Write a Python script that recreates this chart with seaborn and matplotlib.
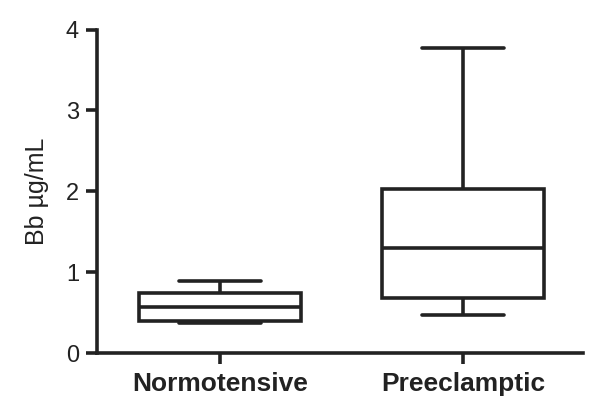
import matplotlib
matplotlib.use("Agg")
import matplotlib.pyplot as plt
import seaborn as sns
import pandas as pd

# Five-number summaries (min, Q1, median, Q3, max)
categories = ["Normotensive", "Preeclamptic"]
normotensive = [0.37, 0.40, 0.57, 0.74, 0.89]
preeclamptic = [0.47, 0.68, 1.30, 2.03, 3.77]
y_ticks = [0, 1, 2, 3, 4]
y_label = "Bb µg/mL"

df = pd.DataFrame({
    "group": [categories[0]] * len(normotensive) + [categories[1]] * len(preeclamptic),
    "value": normotensive + preeclamptic,
})

sns.set_theme(style="ticks")
plt.rcParams["font.family"] = ["Liberation Sans", "DejaVu Sans"]

fig = plt.figure(figsize=(6.0, 4.16), dpi=100)
ax = fig.add_axes([0.1617, 0.1514, 0.81, 0.7776])

lc = "#222222"
lw = 2.6
sns.boxplot(data=df, x="group", y="value", order=categories, whis=(0, 100),
            width=0.67, color="white", linecolor=lc, linewidth=lw,
            fliersize=0, ax=ax)

ax.set_ylim(0, 4)
ax.set_xlim(-0.506, 1.494)
ax.set_yticks(y_ticks)
ax.set_yticklabels([str(t) for t in y_ticks], fontsize=17, color=lc)
ax.set_xticks(range(len(categories)))
ax.set_xticklabels(categories, fontsize=19, fontweight="bold", color=lc)
ax.set_xlabel("")
ax.set_ylabel(y_label, fontsize=18, color=lc, labelpad=12)
for s in ["top", "right"]:
    ax.spines[s].set_visible(False)
for s in ["left", "bottom"]:
    ax.spines[s].set_linewidth(lw)
    ax.spines[s].set_color(lc)
ax.tick_params(axis="both", width=lw, length=8, color=lc)
ax.tick_params(axis="y", pad=5)
ax.tick_params(axis="x", pad=6)

fig.savefig("out.png", dpi=100, facecolor="white")
